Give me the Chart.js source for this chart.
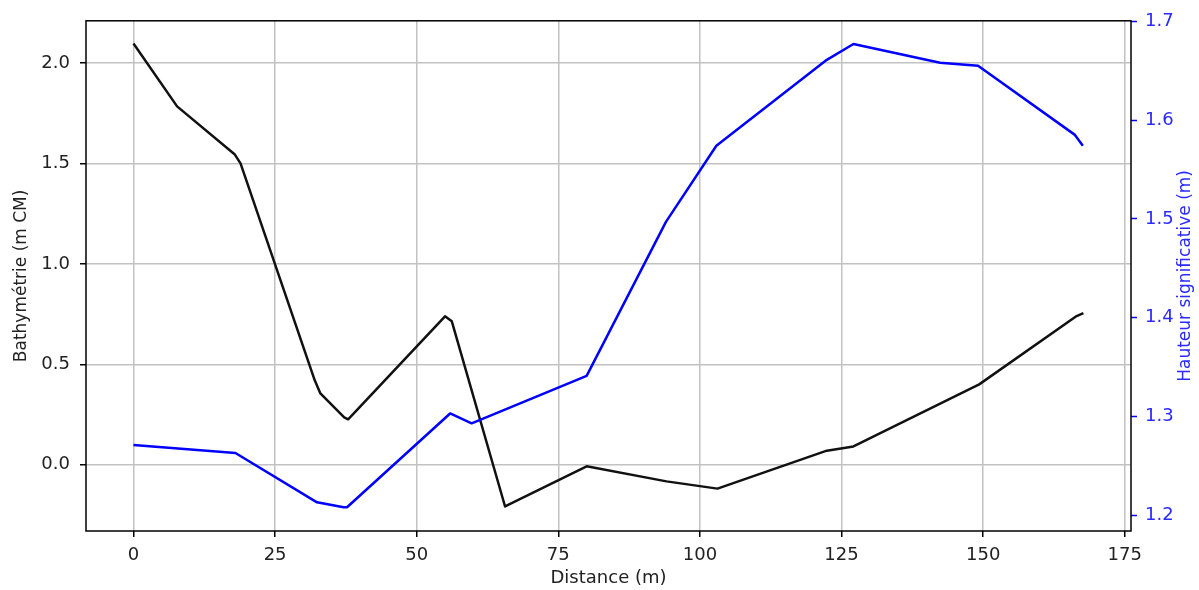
<!DOCTYPE html>
<html>
<head>
<meta charset="utf-8">
<script src="https://cdn.jsdelivr.net/npm/chart.js@4.4.0/dist/chart.umd.min.js"></script>
<style>
html, body { margin: 0; padding: 0; background: #fff; }
#wrap { width: 1199px; height: 590px; }
</style>
</head>
<body>
<div id="wrap"><canvas id="profilChart"></canvas></div>
<script>
//bathymetrie (axe gauche)
const distBathy = [0, 7.7, 17.9, 18.9, 32.0, 33.0, 37.2, 37.9, 55.0, 56.2, 65.6, 80.0, 94.1, 103.1, 122.4, 127.1, 149.3, 166.5, 167.7];
const bathy = [2.097, 1.784, 1.544, 1.50, 0.42, 0.355, 0.236, 0.226, 0.739, 0.714, -0.208, -0.008, -0.083, -0.119, 0.070, 0.091, 0.40, 0.74, 0.755];

//hauteur significative (axe droit)
const distHs = [0, 18.0, 32.4, 37.1, 37.7, 55.9, 59.7, 80.0, 94.0, 102.9, 122.4, 127.1, 142.4, 149.1, 166.2, 167.6];
const hs = [1.271, 1.263, 1.213, 1.208, 1.208, 1.303, 1.293, 1.341, 1.497, 1.574, 1.661, 1.677, 1.658, 1.655, 1.585, 1.574];

//ticks
const xTicks = [0, 25, 50, 75, 100, 125, 150, 175];
const yTicks = [0.0, 0.5, 1.0, 1.5, 2.0];
const y2Ticks = [1.2, 1.3, 1.4, 1.5, 1.6, 1.7];

const xTitle = 'Distance (m)';
const yTitle = 'Bathymétrie (m CM)';
const y2Title = 'Hauteur significative (m)';

const gridColor = '#c2c2c2';
const blue = '#0000ff';
const blueText = '#2a2aff';

Chart.defaults.font.family = 'DejaVu Sans';
Chart.defaults.font.size = 18;
Chart.defaults.color = '#222';

// cadre noir autour du graphe + titre de l'axe droit (lu de bas en haut)
const framePlugin = {
    id: 'frame',
    afterDraw(chart) {
        const {ctx, chartArea: a} = chart;
        ctx.save();
        ctx.strokeStyle = '#000';
        ctx.lineWidth = 1.5;
        ctx.strokeRect(a.left, a.top, a.right - a.left, a.bottom - a.top);
        ctx.translate(1186, (a.top + a.bottom) / 2);
        ctx.rotate(-Math.PI / 2);
        ctx.fillStyle = blueText;
        ctx.font = '17px "DejaVu Sans"';
        ctx.textAlign = 'center';
        ctx.textBaseline = 'middle';
        ctx.fillText(y2Title, 0, 0);
        ctx.restore();
    }
};

const ctx = document.getElementById('profilChart').getContext('2d');
const profilChart = new Chart(ctx, {
    type: 'line',
    data: {
        datasets: [{
            label: 'Hs',
            data: distHs.map((d, i) => ({x: d, y: hs[i]})),
            borderColor: blue,
            borderWidth: 2.5,
            pointRadius: 0,
            borderJoinStyle: 'round',
            yAxisID: 'y2'
        }, {
            label: 'Bathy',
            data: distBathy.map((d, i) => ({x: d, y: bathy[i]})),
            borderColor: '#111',
            borderWidth: 2.5,
            pointRadius: 0,
            borderJoinStyle: 'round',
            yAxisID: 'y'
        }]
    },
    options: {
        responsive: true,
        maintainAspectRatio: false,
        animation: false,
        layout: { padding: { top: 20, left: 0, right: 0, bottom: 0 } },
        plugins: { legend: { display: false }, tooltip: { enabled: false } },
        scales: {
            x: {
                type: 'linear',
                min: -8.38,
                max: 176.1,
                afterBuildTicks: s => { s.ticks = xTicks.map(v => ({value: v})); },
                afterFit: s => { s.height = 59; },
                ticks: { padding: 8, color: '#222', callback: v => String(v) },
                grid: { color: gridColor, lineWidth: 1.5, tickColor: '#000', tickLength: 6, tickWidth: 1.5 },
                border: { display: false },
                title: { display: true, text: xTitle, color: '#222', padding: { top: 0, bottom: 1 } }
            },
            y: {
                position: 'left',
                min: -0.33,
                max: 2.21,
                afterBuildTicks: s => { s.ticks = yTicks.map(v => ({value: v})); },
                afterFit: s => { s.width = 86; },
                ticks: { padding: 10, color: '#222', callback: v => v.toFixed(1) },
                grid: { color: gridColor, lineWidth: 1.5, tickColor: '#000', tickLength: 6, tickWidth: 1.5 },
                border: { display: false },
                title: { display: true, text: yTitle, color: '#222', font: { size: 17 }, padding: { top: 11, bottom: 0 } }
            },
            y2: {
                position: 'right',
                min: 1.184,
                max: 1.7005,
                afterBuildTicks: s => { s.ticks = y2Ticks.map(v => ({value: v})); },
                afterFit: s => { s.width = 68; },
                ticks: { padding: 8, color: blueText, callback: v => v.toFixed(1) },
                grid: { drawOnChartArea: false, tickColor: blue, tickLength: 6, tickWidth: 1.5 },
                border: { display: false }
            }
        }
    },
    plugins: [framePlugin]
});
</script>
</body>
</html>
